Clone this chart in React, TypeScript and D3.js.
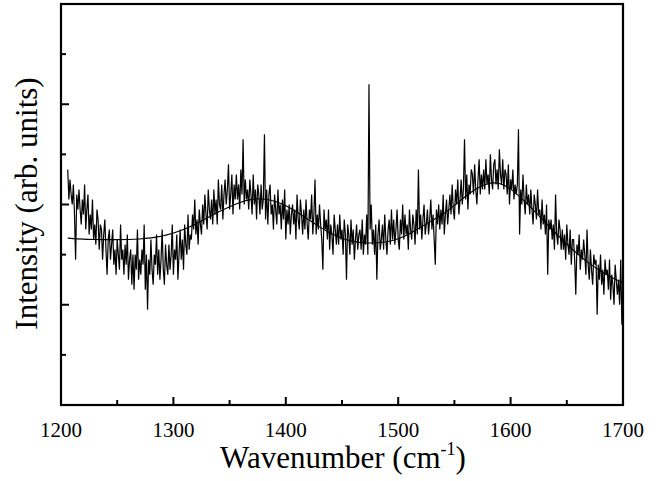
import React, { useRef, useEffect } from 'react';
import * as d3 from 'd3';

// raw spectrum, 1 cm-1 steps starting at 1206
const startWn = 1206;
const intensity = [
  4.7, 4.1, 4.5, 4.2, 4.0, 4.4, 3.8, 2.9, 4.2, 3.9,
  4.3, 3.9, 3.6, 4.1, 3.8, 4.4, 3.5, 3.9, 4.2, 3.4,
  3.8, 3.5, 4.1, 3.3, 3.6, 3.2, 3.9, 3.7, 3.1, 3.6,
  3.5, 2.9, 3.4, 3.7, 3.1, 2.6, 3.3, 3.5, 2.9, 3.2,
  3.5, 2.8, 3.1, 2.6, 3.3, 3.0, 2.7, 3.6, 2.9, 3.1,
  2.6, 3.2, 2.8, 3.4, 2.5, 2.9, 3.1, 2.4, 3.0, 2.3,
  3.0, 2.7, 3.5, 2.5, 2.9, 2.6, 3.1, 2.8, 3.6, 2.3,
  3.0, 1.9, 2.9, 2.6, 3.3, 2.7, 2.4, 3.0, 2.8, 3.4,
  2.6, 3.1, 2.5, 2.9, 3.5, 2.7, 2.4, 3.2, 2.8, 2.6,
  3.2, 2.7, 3.0, 3.6, 2.6, 3.1, 2.9, 3.4, 2.5, 3.0,
  3.5, 2.9, 3.3, 2.7, 3.6, 3.2, 3.0, 3.8, 3.1, 3.4,
  3.3, 3.8, 3.5, 4.1, 3.4, 3.7, 3.2, 3.9, 3.6, 3.4,
  4.0, 3.6, 4.2, 3.8, 3.5, 4.3, 3.9, 3.7, 4.1, 3.6,
  4.3, 3.8, 4.1, 3.6, 4.5, 4.0, 3.9, 4.4, 3.7, 4.2,
  4.5, 4.0, 4.3, 4.8, 3.9, 4.2, 4.6, 3.8, 4.4, 4.1,
  4.6, 4.1, 4.4, 3.9, 4.7, 4.2, 5.3, 4.0, 4.5, 4.1,
  4.3, 3.9, 4.5, 4.2, 3.8, 4.6, 4.0, 4.3, 3.7, 4.4,
  4.2, 3.8, 4.4, 3.9, 4.1, 5.4, 3.7, 4.3, 3.6, 4.2,
  4.4, 3.8, 4.0, 3.5, 4.2, 3.9, 3.6, 4.3, 3.8, 4.0,
  3.5, 4.1, 3.7, 4.3, 3.3, 3.9, 3.6, 4.0, 3.4, 3.8,
  4.0, 3.6, 3.9, 3.3, 4.2, 3.7, 3.5, 4.1, 3.8, 3.4,
  3.9, 3.5, 4.1, 3.6, 3.3, 3.9, 3.7, 4.2, 3.4, 3.8,
  4.5, 3.4, 3.8, 3.5, 4.0, 3.6, 3.3, 2.7, 3.9, 3.5,
  3.7, 3.3, 3.9, 3.1, 3.6, 3.4, 3.0, 3.8, 3.5, 3.2,
  3.6, 3.2, 3.8, 3.3, 3.5, 3.0, 3.7, 3.4, 2.5, 3.6,
  3.4, 3.0, 3.7, 3.2, 3.5, 2.9, 3.3, 3.6, 3.1, 3.4,
  3.5, 3.1, 3.7, 3.0, 3.4, 3.2, 3.8, 3.0, 6.4, 3.5,
  4.0, 3.2, 3.5, 3.0, 3.6, 2.5, 3.4, 3.7, 3.1, 3.3,
  3.6, 3.1, 3.8, 3.3, 3.0, 3.5, 3.7, 3.2, 3.9, 3.3,
  3.7, 3.2, 3.5, 3.9, 3.3, 3.1, 3.7, 3.4, 4.0, 3.3,
  3.8, 3.4, 3.6, 3.1, 3.9, 3.5, 3.3, 3.8, 3.6, 3.2,
  3.9, 3.4, 4.7, 3.5, 3.8, 3.3, 3.7, 4.0, 3.4, 3.6,
  3.9, 3.4, 3.7, 4.1, 3.5, 3.8, 3.3, 2.8, 3.9, 3.6,
  4.0, 3.5, 3.9, 3.6, 4.2, 3.4, 3.8, 4.1, 3.6, 3.9,
  4.2, 3.8, 4.4, 3.9, 3.7, 4.3, 4.0, 4.5, 3.8, 4.1,
  4.5, 4.0, 4.3, 5.3, 4.1, 4.6, 3.9, 4.4, 4.2, 4.7,
  4.6, 4.2, 4.8, 4.3, 4.0, 4.5, 4.9, 4.2, 4.6, 4.3,
  4.7, 4.3, 4.9, 4.4, 4.6, 4.2, 5.0, 4.5, 4.3, 4.8,
  4.9, 4.4, 4.7, 4.3, 5.1, 4.6, 4.4, 4.9, 4.3, 4.7,
  4.6, 4.2, 4.8, 4.0, 4.5, 4.3, 4.7, 4.1, 4.4, 4.2,
  4.4, 5.5, 3.4, 4.3, 4.0, 4.6, 4.1, 3.8, 4.4, 4.0,
  4.2, 3.8, 4.3, 3.9, 3.6, 4.2, 4.0, 3.7, 4.3, 3.8,
  3.9, 3.5, 4.1, 3.6, 3.8, 3.4, 4.0, 2.6, 3.7, 3.5,
  3.7, 3.3, 3.6, 3.1, 4.2, 3.4, 3.2, 3.7, 3.5, 3.1,
  3.5, 3.1, 3.4, 2.9, 3.6, 3.2, 3.0, 3.5, 2.8, 3.3,
  3.3, 2.9, 2.2, 3.2, 3.0, 3.4, 2.7, 3.1, 2.9, 3.3,
  3.0, 2.6, 3.5, 2.8, 2.5, 3.1, 2.7, 2.4, 3.0, 2.8,
  2.9, 1.8, 2.8, 2.5, 3.0, 2.4, 2.7, 2.2, 2.9, 2.6,
  2.7, 2.3, 2.9, 2.1, 2.6, 2.4, 2.0, 2.8, 2.5, 2.2,
  2.5, 2.0, 2.9, 1.6, 2.4,
];

// fitted curve
const fitWn = [
  1206, 1210, 1220, 1230, 1240, 1250, 1260, 1270, 1280, 1290,
  1300, 1310, 1320, 1330, 1340, 1350, 1360, 1370, 1380, 1390,
  1400, 1410, 1420, 1430, 1440, 1450, 1460, 1470, 1480, 1490,
  1500, 1510, 1520, 1530, 1540, 1550, 1560, 1570, 1580, 1590,
  1600, 1610, 1620, 1630, 1640, 1650, 1660, 1670, 1680, 1690, 1700,
];
const fitVal = [
  3.33, 3.32, 3.31, 3.30, 3.30, 3.30, 3.30, 3.31, 3.33, 3.37,
  3.43, 3.51, 3.61, 3.73, 3.85, 3.96, 4.05, 4.11, 4.12, 4.07,
  3.98, 3.85, 3.70, 3.55, 3.42, 3.32, 3.26, 3.23, 3.23, 3.25,
  3.31, 3.41, 3.55, 3.68, 3.80, 3.98, 4.17, 4.33, 4.43, 4.44,
  4.32, 4.12, 3.90, 3.66, 3.43, 3.21, 3.00, 2.82, 2.67, 2.54, 2.44,
];

const xTicks = [1200, 1250, 1300, 1350, 1400, 1450, 1500, 1550, 1600, 1650, 1700];
const xLabels = [1200, 1300, 1400, 1500, 1600, 1700];
const yTicks = [1, 2, 3, 4, 5, 6, 7];

const App = () => {
  const svgRef = useRef(null);

  useEffect(() => {
    const svg = d3.select(svgRef.current);
    svg.selectAll('*').remove();

    const width = 669;
    const height = 481;
    const margin = { top: 4, right: 46, bottom: 76, left: 61 };
    const font = '"Liberation Serif", "Times New Roman", serif';

    svg.attr('width', width).attr('height', height);

    const x = d3.scaleLinear()
      .domain([1200, 1700])
      .range([margin.left, width - margin.right]);

    const y = d3.scaleLinear()
      .domain([0, 8])
      .range([height - margin.bottom, margin.top]);

    const raw = intensity.map((v, i) => [startWn + i, v]);
    const fit = fitWn.map((w, i) => [w, fitVal[i]]);

    const line = d3.line()
      .x(d => x(d[0]))
      .y(d => y(d[1]));

    svg.append('path')
      .datum(raw)
      .attr('d', line)
      .attr('fill', 'none')
      .attr('stroke', '#000')
      .attr('stroke-width', 1.2);

    svg.append('path')
      .datum(fit)
      .attr('d', line.curve(d3.curveBasis))
      .attr('fill', 'none')
      .attr('stroke', '#000')
      .attr('stroke-width', 1.1);

    // frame
    svg.append('rect')
      .attr('x', x(1200))
      .attr('y', y(8))
      .attr('width', x(1700) - x(1200))
      .attr('height', y(0) - y(8))
      .attr('fill', 'none')
      .attr('stroke', '#000')
      .attr('stroke-width', 2.2);

    // inward ticks, bottom
    svg.append('g')
      .selectAll('line')
      .data(xTicks)
      .join('line')
      .attr('x1', d => x(d))
      .attr('x2', d => x(d))
      .attr('y1', y(0))
      .attr('y2', d => y(0) - (d % 100 === 0 ? 8 : 5))
      .attr('stroke', '#000')
      .attr('stroke-width', 2);

    // inward ticks, left
    svg.append('g')
      .selectAll('line')
      .data(yTicks)
      .join('line')
      .attr('x1', x(1200))
      .attr('x2', d => x(1200) + (d % 2 === 0 ? 8 : 5))
      .attr('y1', d => y(d))
      .attr('y2', d => y(d))
      .attr('stroke', '#000')
      .attr('stroke-width', 2);

    svg.append('g')
      .selectAll('text')
      .data(xLabels)
      .join('text')
      .attr('x', d => x(d))
      .attr('y', 437)
      .attr('text-anchor', 'middle')
      .attr('font-family', font)
      .attr('font-size', 21)
      .text(d => d);

    const xt = svg.append('text')
      .attr('x', (x(1200) + x(1700)) / 2 + 1)
      .attr('y', 468)
      .attr('text-anchor', 'middle')
      .attr('font-family', font)
      .attr('font-size', 31);
    xt.append('tspan').text('Wavenumber (cm');
    xt.append('tspan').attr('dy', -13).attr('font-size', 18).text('-1');
    xt.append('tspan').attr('dy', 13).text(')');

    svg.append('text')
      .attr('transform', `translate(37,${(y(0) + y(8)) / 2 - 1}) rotate(-90)`)
      .attr('text-anchor', 'middle')
      .attr('font-family', font)
      .attr('font-size', 31)
      .text('Intensity (arb. units)');
  }, []);

  return (
    <div style={{ position: 'absolute', left: 0, top: 0 }}>
      <svg ref={svgRef}></svg>
    </div>
  );
};

export default App;
